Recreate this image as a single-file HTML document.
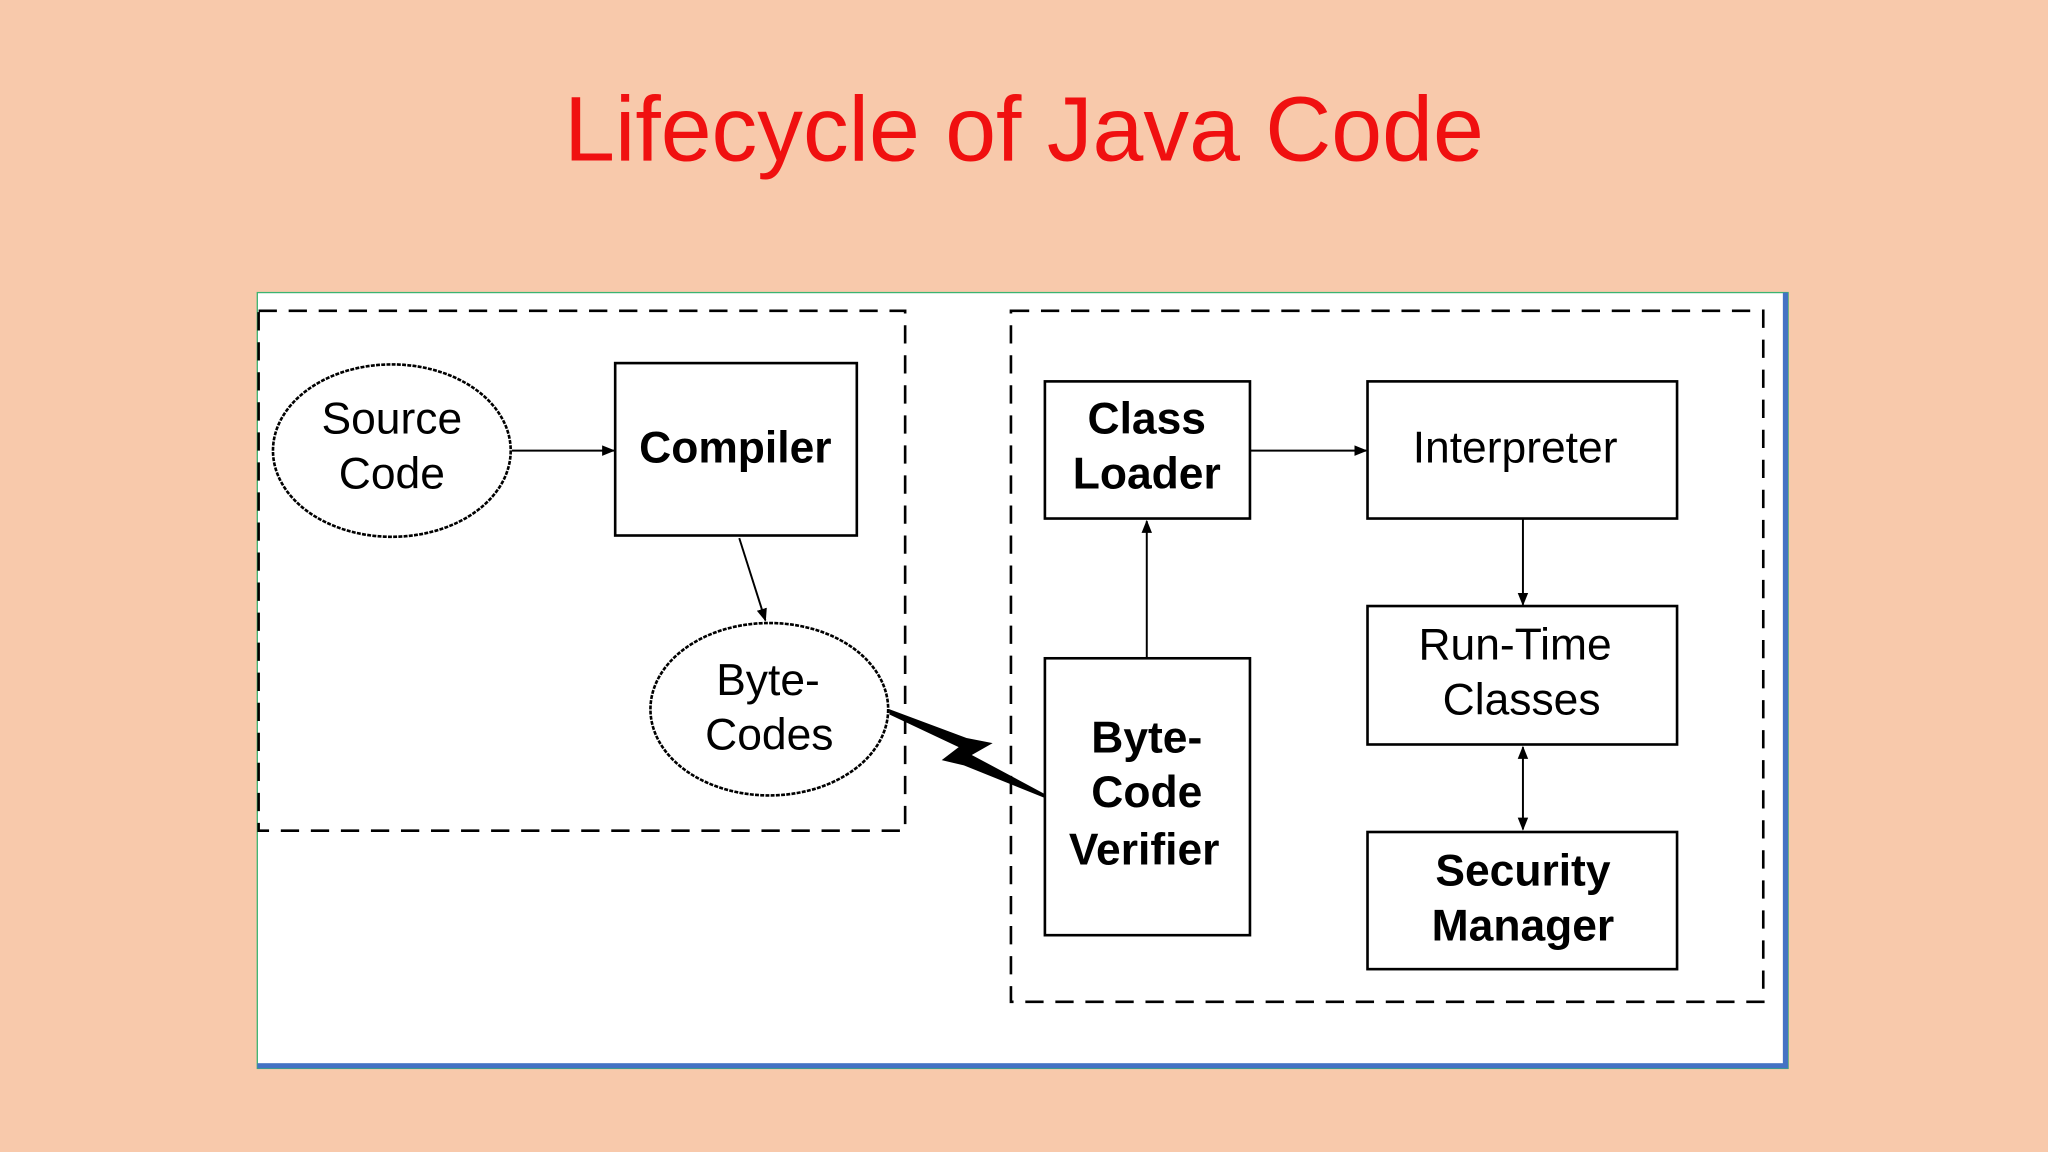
<!DOCTYPE html>
<html><head><meta charset="utf-8"><style>
html,body{margin:0;padding:0;width:2048px;height:1152px;overflow:hidden;background:#F8C9AB}
svg{display:block}
</style></head><body>
<svg width="2048" height="1152" viewBox="0 0 1568 882" xmlns="http://www.w3.org/2000/svg">
<defs><marker id="a" markerWidth="10" markerHeight="10" refX="9" refY="5" orient="auto" markerUnits="userSpaceOnUse"><path d="M0,1 L10,5 L0,9 z" fill="#000"/></marker>
<marker id="b" markerWidth="10" markerHeight="10" refX="1" refY="5" orient="auto" markerUnits="userSpaceOnUse"><path d="M10,1 L0,5 L10,9 z" fill="#000"/></marker></defs>
<rect width="1568" height="882" fill="#F8C9AB"/>
<text x="784" y="123" text-anchor="middle" font-family="Liberation Sans, sans-serif" font-size="70" fill="#F01010">Lifecycle of Java Code</text>
<rect x="197" y="224" width="1172" height="594" fill="#fff" stroke="#3cb371" stroke-width="1"/>
<rect x="1365" y="224" width="4" height="594" fill="#4472C4"/>
<rect x="197" y="814" width="1172" height="4" fill="#4472C4"/>
<g fill="none" stroke="#000" stroke-width="2" stroke-dasharray="14,9">
<rect x="198" y="238" width="495" height="398"/>
<rect x="774" y="238" width="576" height="529"/>
</g>
<g fill="#fff" stroke="#000" stroke-width="2">
<ellipse cx="300" cy="345" rx="91" ry="66" stroke-dasharray="3,1"/>
<rect x="471" y="278" width="185" height="132"/>
<ellipse cx="589" cy="543" rx="91" ry="66" stroke-dasharray="3,1"/>
<rect x="800" y="292" width="157" height="105"/>
<rect x="1047" y="292" width="237" height="105"/>
<rect x="1047" y="464" width="237" height="106"/>
<rect x="1047" y="637" width="237" height="105"/>
<rect x="800" y="504" width="157" height="212"/>
</g>
<g stroke="#000" stroke-width="1.5" fill="none">
<line x1="392" y1="345" x2="470" y2="345" marker-end="url(#a)"/>
<line x1="566" y1="412" x2="586" y2="475" marker-end="url(#a)"/>
<line x1="957" y1="345" x2="1046" y2="345" marker-end="url(#a)"/>
<line x1="1166" y1="397" x2="1166" y2="463" marker-end="url(#a)"/>
<line x1="1166" y1="572" x2="1166" y2="635" marker-end="url(#a)" marker-start="url(#b)"/>
<line x1="878" y1="503" x2="878" y2="399" marker-end="url(#a)"/>
</g>
<polygon points="681,543 740,565 760,569 744,578 800,608 800,611 738,586 721,582 734,572 681,547" fill="#000"/>
<g font-family="Liberation Sans, sans-serif" font-size="34" text-anchor="middle" fill="#000">
<text x="300" y="332">Source</text><text x="300" y="374">Code</text>
<text x="588" y="532">Byte-</text><text x="589" y="574">Codes</text>
<text x="1160" y="354">Interpreter</text>
<text x="1160" y="505">Run-Time</text><text x="1165" y="547">Classes</text>
<g font-weight="bold">
<text x="563" y="354">Compiler</text>
<text x="878" y="332">Class</text><text x="878" y="374">Loader</text>
<text x="878" y="576">Byte-</text><text x="878" y="618">Code</text><text x="876" y="662">Verifier</text>
<text x="1166" y="678">Security</text><text x="1166" y="720">Manager</text>
</g></g>
</svg>
</body></html>
